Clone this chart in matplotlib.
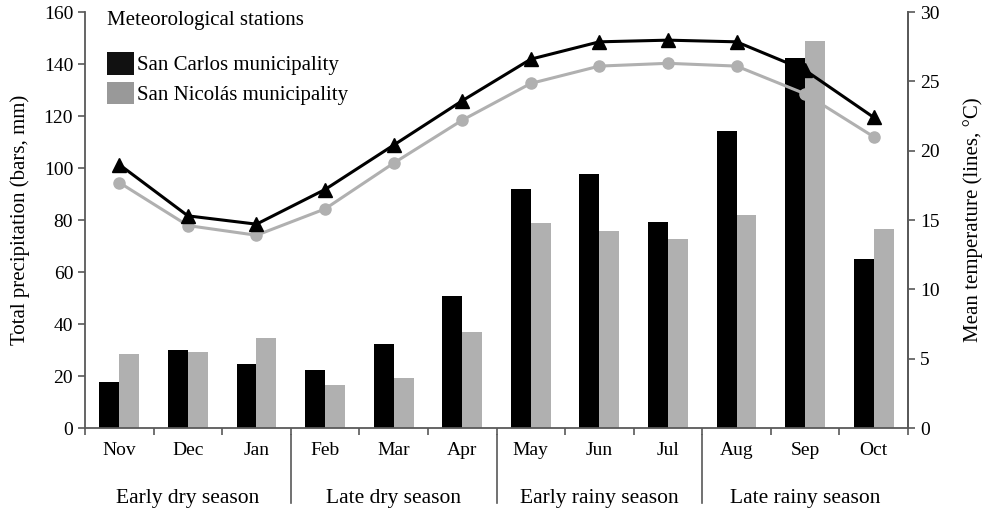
import matplotlib
matplotlib.use("Agg")
import matplotlib.pyplot as plt
from matplotlib.patches import Patch
import numpy as np

plt.rcParams['font.family'] = ['Liberation Serif', 'DejaVu Serif']

months = ["Nov", "Dec", "Jan", "Feb", "Mar", "Apr",
          "May", "Jun", "Jul", "Aug", "Sep", "Oct"]
seasons = ["Early dry season", "Late dry season",
           "Early rainy season", "Late rainy season"]

# monthly precipitation, mm
rain_san_carlos = [17.6, 30.0, 24.7, 22.4, 32.3, 50.8,
                   92.0, 97.7, 79.3, 114.2, 142.4, 65.0]
rain_san_nicolas = [28.3, 29.1, 34.6, 16.7, 19.4, 36.9,
                    78.8, 75.8, 72.6, 81.9, 149.0, 76.5]

# monthly mean temperature, degC
temp_san_carlos = [19.0, 15.3, 14.7, 17.2, 20.4, 23.6,
                   26.6, 27.85, 27.97, 27.85, 25.8, 22.4]
temp_san_nicolas = [17.7, 14.6, 13.9, 15.8, 19.1, 22.2,
                    24.85, 26.1, 26.3, 26.1, 24.1, 21.0]

BLACK = "#000000"
GREY = "#b0b0b0"
SPINE = "#595959"

x = np.arange(len(months))
w = 0.29

fig = plt.figure(figsize=(9.86, 5.11), dpi=100)
ax = fig.add_axes([0.0862, 0.1624, 0.8347, 0.8141])

ax.bar(x - w / 2, rain_san_carlos, w, color=BLACK, zorder=2)
ax.bar(x + w / 2, rain_san_nicolas, w, color=GREY, zorder=2)

ax.set_xlim(-0.5, 11.5)
ax.set_ylim(0, 160)
ax.set_yticks(range(0, 161, 20))
ax.set_ylabel("Total precipitation (bars, mm)", fontsize=15, labelpad=10)

ax.set_xticks(x)
ax.set_xticklabels(months, fontsize=14)
ax.set_xticks(np.arange(-0.5, 12, 1), minor=True)
ax.tick_params(axis="x", which="major", length=0, pad=10)
ax.tick_params(axis="x", which="minor", length=5, width=1.2, color=SPINE)
ax.tick_params(axis="y", length=5, width=1.2, color=SPINE, labelsize=14)

ax.spines["top"].set_visible(False)
for s in ["left", "bottom", "right"]:
    ax.spines[s].set_color(SPINE)
    ax.spines[s].set_linewidth(1.3)

ax2 = ax.twinx()
ax2.plot(x, temp_san_nicolas, color=GREY, lw=2.2, marker="o",
         markersize=8, zorder=3)
ax2.plot(x, temp_san_carlos, color=BLACK, lw=2.2, marker="^",
         markersize=9.5, zorder=4)
ax2.set_ylim(0, 30)
ax2.set_yticks(range(0, 31, 5))
ax2.set_ylabel("Mean temperature (lines, \u00b0C)", fontsize=15, labelpad=17)
ax2.tick_params(axis="y", length=5, width=1.2, color=SPINE, labelsize=14)
for s in ["top", "left", "bottom"]:
    ax2.spines[s].set_visible(False)
ax2.spines["right"].set_color(SPINE)
ax2.spines["right"].set_linewidth(1.3)

# season labels and separators under the month axis
for i, name in enumerate(seasons):
    ax.text(1 + 3 * i, -0.17, name, transform=ax.get_xaxis_transform(),
            ha="center", va="center", fontsize=15.5)
for b in [2.5, 5.5, 8.5]:
    ax.plot([b, b], [-0.017, -0.18], transform=ax.get_xaxis_transform(),
            color=SPINE, lw=1.2, clip_on=False)

handles = [Patch(facecolor="#111111", edgecolor="none", label="San Carlos municipality"),
           Patch(facecolor="#999999", edgecolor="none", label="San Nicol\u00e1s municipality")]
leg = ax2.legend(handles=handles, title="Meteorological stations",
                 loc="upper left", bbox_to_anchor=(0.027, 1.003),
                 frameon=False, fontsize=15, title_fontsize=15,
                 handlelength=1.3, handleheight=1.3, handletextpad=0.12,
                 labelspacing=0.3, borderpad=0, borderaxespad=0)
leg._legend_box.align = "left"
leg._legend_box.sep = 16

fig.savefig("out.png", dpi=100)
